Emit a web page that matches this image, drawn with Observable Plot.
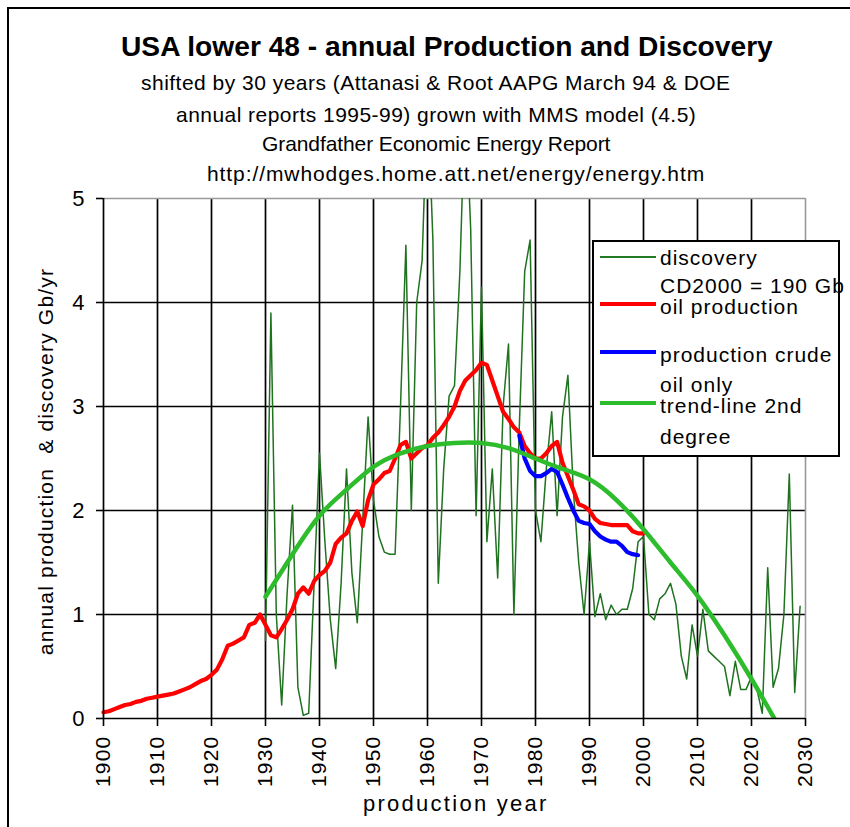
<!DOCTYPE html>
<html>
<head>
<meta charset="utf-8">
<script src="https://cdn.jsdelivr.net/npm/d3@7"></script>
<script src="https://cdn.jsdelivr.net/npm/@observablehq/plot@0.6"></script>
<style>
  body { margin: 0; background: #fff; }
  #root { position: relative; width: 850px; height: 827px; background: #fff; overflow: hidden;
          font-family: "Liberation Sans", Arial, sans-serif; color: #000; }
  .txt { position: absolute; white-space: nowrap; line-height: 1; }
  #chart { position: absolute; left: 0; top: 180px; }
  #chart svg g[aria-label="x-axis tick label"] text { letter-spacing: 1.2px; }
  .legend { position: absolute; left: 592px; top: 240px; width: 244px; height: 213px;
            border: 2px solid #000; background: #fff; }
  .lg { position: absolute; left: 6px; width: 56px; }
  .lt { position: absolute; left: 66px; font-size: 21px; white-space: nowrap; line-height: 1; letter-spacing: 1px; }
</style>
</head>
<body>
<div id="root">
  <div style="position:absolute;left:7px;top:7px;width:2px;height:820px;background:#000"></div>
  <div style="position:absolute;left:7px;top:7px;width:843px;height:2px;background:#000"></div>
  <div id="chart"></div>
  <div class="legend">
    <div class="lg" style="top:14px;height:1.5px;background:#237a23"></div>
    <div class="lt" style="top:5px">discovery</div>
    <div class="lt" style="top:33px">CD2000 = 190 Gb</div>
    <div class="lg" style="top:60px;height:4px;background:#ff0000"></div>
    <div class="lt" style="top:54px">oil production</div>
    <div class="lg" style="top:108px;height:4px;background:#0000ff"></div>
    <div class="lt" style="top:102px">production crude</div>
    <div class="lt" style="top:132px">oil only</div>
    <div class="lg" style="top:159px;height:4px;background:#2cbc2c"></div>
    <div class="lt" style="top:153px">trend-line 2nd</div>
    <div class="lt" style="top:184px">degree</div>
  </div>
</div>
<script>
// ---------- data ----------
const discoveryStart = 1930;
const discovery = [
  0.75, 3.9, 1.0, 0.13, 1.2, 2.05, 0.3, 0.03, 0.05, 1.3,
  2.55, 1.7, 0.95, 0.48, 1.3, 2.4, 1.4, 0.92, 1.9, 2.9,
  2.1, 1.75, 1.6, 1.58, 1.58, 3.0, 4.55, 2.0, 4.0, 4.4,
  6.0, 4.6, 1.3, 2.4, 3.1, 3.2, 4.3, 6.0, 4.7, 1.95,
  4.15, 1.7, 2.4, 1.35, 3.0, 3.6, 1.0, 2.8, 4.3, 4.6,
  2.0, 1.7, 2.4, 2.95, 1.95, 2.9, 3.3, 2.2, 1.5, 1.0,
  1.7, 0.98, 1.2, 0.95, 1.09, 1.0, 1.05, 1.05, 1.25, 1.7,
  1.75, 1.0, 0.95, 1.15, 1.2, 1.3, 1.1, 0.6, 0.38, 0.9,
  0.6, 1.05, 0.65, 0.6, 0.55, 0.5, 0.22, 0.55, 0.28, 0.28,
  0.4, 0.28, 0.05, 1.45, 0.3, 0.48, 1.0, 2.35, 0.25, 1.08
];
const productionStart = 1900;
const production = [
  0.06, 0.07, 0.09, 0.11, 0.13, 0.14, 0.16, 0.17, 0.19, 0.2,
  0.21, 0.22, 0.23, 0.24, 0.26, 0.28, 0.3, 0.33, 0.36, 0.38,
  0.42, 0.47, 0.57, 0.7, 0.72, 0.75, 0.78, 0.9, 0.92, 1.0,
  0.9, 0.8, 0.78, 0.86, 0.95, 1.05, 1.2, 1.26, 1.2, 1.32,
  1.38, 1.42, 1.5, 1.68, 1.74, 1.78, 1.9, 1.99, 1.85, 2.1,
  2.25, 2.3, 2.36, 2.38, 2.5, 2.63, 2.66, 2.5, 2.55, 2.6,
  2.63, 2.7, 2.75, 2.82, 2.9, 3.0, 3.15, 3.25, 3.3, 3.35,
  3.42, 3.4, 3.25, 3.1, 2.95, 2.88, 2.8, 2.75, 2.62, 2.55,
  2.5, 2.5, 2.55, 2.62, 2.66, 2.46, 2.33, 2.2, 2.06, 2.04,
  2.0, 1.92, 1.88, 1.87, 1.86, 1.86, 1.86, 1.86, 1.8, 1.78,
  1.78
];
const crudeStart = 1977;
const crude = [
  2.72, 2.5, 2.38, 2.33, 2.33, 2.36, 2.4, 2.37, 2.25, 2.12,
  2.0, 1.9, 1.88, 1.87, 1.8, 1.75, 1.72, 1.7, 1.7, 1.66,
  1.6, 1.58, 1.57
];
const trendYears = [1930, 1935, 1940, 1945, 1950, 1955, 1960, 1965, 1970, 1975,
                    1980, 1985, 1990, 1995, 2000, 2005, 2010, 2015, 2020, 2025];
const trendValues = [1.17, 1.58, 1.95, 2.2, 2.42, 2.55, 2.62, 2.65, 2.65, 2.6,
                     2.5, 2.4, 2.3, 2.1, 1.82, 1.5, 1.18, 0.8, 0.38, -0.07];
const xTicks = [1900, 1910, 1920, 1930, 1940, 1950, 1960, 1970, 1980, 1990, 2000, 2010, 2020, 2030];
const yTicks = [0, 1, 2, 3, 4, 5];

// ---------- tables ----------
const discRows = discovery.map((v, i) => ({year: discoveryStart + i, value: v}));
const prodRows = production.map((v, i) => ({year: productionStart + i, value: v}));
const crudeRows = crude.map((v, i) => ({year: crudeStart + i, value: v}));
const trendRows = trendYears.map((y, i) => ({year: y, value: trendValues[i]}));

const chart = Plot.plot({
  width: 850,
  height: 647,
  marginLeft: 103,
  marginRight: 45,
  marginTop: 18,
  marginBottom: 109,
  x: {domain: [1900, 2030]},
  y: {domain: [0, 5]},
  style: {background: "transparent", color: "#000", fontFamily: "'Liberation Sans', Arial, sans-serif"},
  marks: [
    Plot.ruleX(xTicks.slice(1, -1), {stroke: "#000", strokeWidth: 1.7}),
    Plot.ruleY(yTicks.slice(1, -1), {stroke: "#000", strokeWidth: 1.7}),
    Plot.ruleX([2030], {stroke: "#9a9a9a", strokeWidth: 1.6}),
    Plot.ruleY([5], {stroke: "#9a9a9a", strokeWidth: 1.6}),
    Plot.axisX({ticks: xTicks, tickFormat: d => String(d), tickRotate: -90, tickSize: 8, tickPadding: 9,
                fontSize: 21, label: null, strokeWidth: 1.6}),
    Plot.axisY({ticks: yTicks, tickFormat: d => String(d), tickSize: 7, tickPadding: 12, fontSize: 22,
                label: null, strokeWidth: 1.6}),
    Plot.line(discRows, {x: "year", y: "value", stroke: "#1f721f", strokeWidth: 1.5, clip: true}),
    Plot.line(prodRows, {x: "year", y: "value", stroke: "#ff0000", strokeWidth: 4.2}),
    Plot.line(crudeRows, {x: "year", y: "value", stroke: "#0000ff", strokeWidth: 4.2}),
    Plot.line(trendRows, {x: "year", y: "value", stroke: "#2cbc2c", strokeWidth: 4.5, curve: "natural", clip: true}),
    Plot.ruleX([1900], {stroke: "#000", strokeWidth: 1.7}),
    Plot.ruleY([0], {stroke: "#000", strokeWidth: 1.7})
  ]
});
document.getElementById("chart").appendChild(chart);

// ---------- titles & axis labels ----------
const root = document.getElementById("root");
const texts = [
  {t: "USA lower 48 - annual Production and Discovery", cx: 447, cy: 47, size: 28, w: 652, bold: true, mode: "scale"},
  {t: "shifted by 30 years (Attanasi & Root AAPG March 94 & DOE", cx: 436, cy: 82, size: 21, w: 590},
  {t: "annual reports 1995-99) grown with MMS model (4.5)", cx: 436, cy: 114, size: 21, w: 520},
  {t: "Grandfather Economic Energy Report", cx: 436, cy: 143, size: 21, w: 348},
  {t: "http://mwhodges.home.att.net/energy/energy.htm", cx: 456, cy: 173, size: 21, w: 498},
  {t: "production year", cx: 456, cy: 804, size: 22, w: 186},
  {t: "annual production  & discovery Gb/yr", cx: 45, cy: 461, size: 21, w: 387, rotate: true}
];
for (const d of texts) {
  const s = document.createElement("div");
  s.className = "txt";
  s.textContent = d.t;
  s.style.whiteSpace = "pre";
  s.style.fontSize = d.size + "px";
  if (d.bold) s.style.fontWeight = "bold";
  root.appendChild(s);
  const w0 = s.offsetWidth;
  if (d.mode === "scale") {
    s.style.left = (d.cx - w0 / 2) + "px";
    s.style.top = (d.cy - d.size / 2) + "px";
    s.style.transform = `scaleX(${d.w / w0})`;
  } else {
    s.style.letterSpacing = ((d.w - w0) / d.t.length) + "px";
    const w1 = s.offsetWidth;
    s.style.left = (d.cx - w1 / 2) + "px";
    s.style.top = (d.cy - d.size / 2) + "px";
    if (d.rotate) s.style.transform = "rotate(-90deg)";
  }
}
</script>
</body>
</html>
